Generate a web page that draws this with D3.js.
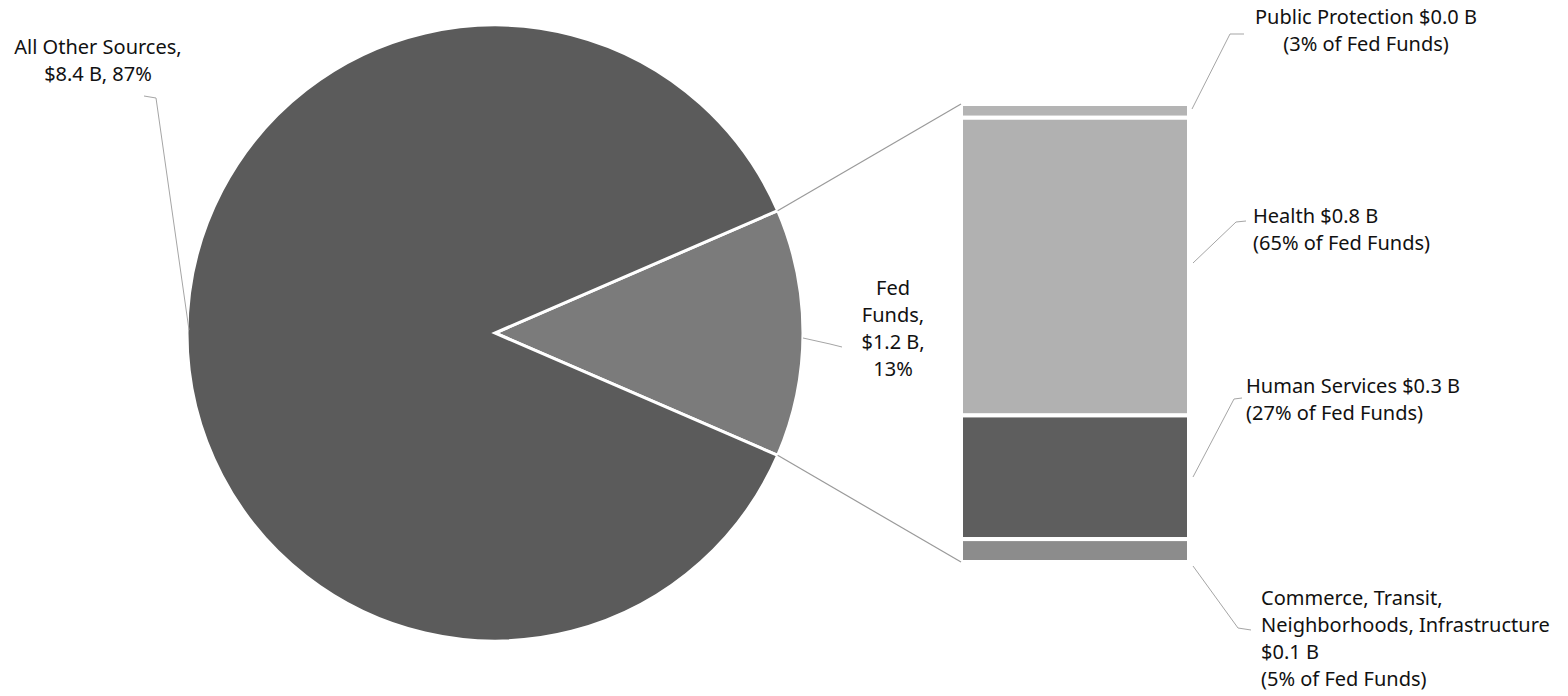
<!DOCTYPE html>
<html lang="en">
<head>
  <meta charset="UTF-8">
  <title>Fed Funds</title>
  <script src="https://d3js.org/d3.v7.min.js"></script>
  <style>
    body { margin: 0; background: #fff; }
    svg text { font-family: "Noto Sans", sans-serif; font-size: 20px; fill: #111; }
  </style>
</head>
<body>
  <svg id="chart" width="1568" height="696"></svg>
  <script>
    // pie: share of total (%)
    const pieNames = ["Fed Funds", "All Other Sources"];
    const pieShares = [13, 87];
    const pieAmounts = ["$1.2 B", "$8.4 B"];

    // bar: breakdown of Fed Funds (%), top to bottom
    const barNames = ["Public Protection", "Health", "Human Services", "Commerce, Transit, Neighborhoods, Infrastructure"];
    const barShares = [3, 65, 27, 5];
    const barAmounts = ["$0.0 B", "$0.8 B", "$0.3 B", "$0.1 B"];

    const svg = d3.select("#chart");
    const cx = 495, cy = 333, r = 308;

    const pieColors = ["#7b7b7b", "#5b5b5b"];
    const barColors = ["#b4b4b4", "#b1b1b1", "#5e5e5e", "#8c8c8c"];

    const fedAngle = pieShares[0] / d3.sum(pieShares) * 2 * Math.PI;
    const start = Math.PI / 2 - fedAngle / 2;
    const pie = d3.pie().sort(null).startAngle(start).endAngle(start + 2 * Math.PI);
    const arcs = pie(pieShares);
    const arc = d3.arc().innerRadius(0).outerRadius(r);

    const g = svg.append("g").attr("transform", `translate(${cx},${cy})`);
    g.selectAll("path")
      .data(arcs)
      .enter().append("path")
      .attr("d", arc)
      .attr("fill", (d, i) => pieColors[i])
      .attr("stroke", "#fff")
      .attr("stroke-width", 3)
      .attr("stroke-linejoin", "miter");

    // bar of pie
    const bx = 961, bw = 228;
    const y = d3.scaleLinear().domain([0, d3.sum(barShares)]).range([104, 562]);
    const cum = d3.cumsum(barShares);
    const segs = barShares.map((v, i) => ({ v, y0: cum[i] - v, y1: cum[i], i }));

    svg.selectAll(".seg")
      .data(segs)
      .enter().append("rect")
      .attr("class", "seg")
      .attr("x", bx)
      .attr("width", bw)
      .attr("y", d => y(d.y0))
      .attr("height", d => y(d.y1) - y(d.y0))
      .attr("fill", d => barColors[d.i])
      .attr("stroke", "#fff")
      .attr("stroke-width", 4);

    // connector lines from slice edges to bar corners
    const edge = a => [cx + r * Math.sin(a), cy - r * Math.cos(a)];
    const pA = edge(arcs[0].startAngle), pB = edge(arcs[0].endAngle);
    svg.append("line")
      .attr("x1", pA[0]).attr("y1", pA[1]).attr("x2", bx).attr("y2", y(0))
      .attr("stroke", "#9a9a9a").attr("stroke-width", 1.2);
    svg.append("line")
      .attr("x1", pB[0]).attr("y1", pB[1]).attr("x2", bx).attr("y2", y(d3.sum(barShares)))
      .attr("stroke", "#9a9a9a").attr("stroke-width", 1.2);

    const leader = pts => svg.append("path")
      .attr("d", d3.line()(pts))
      .attr("fill", "none")
      .attr("stroke", "#a5a5a5")
      .attr("stroke-width", 1);

    function multiText(x, y0, lines, anchor) {
      const t = svg.append("text").attr("text-anchor", anchor);
      lines.forEach((s, i) => {
        t.append("tspan").attr("x", x).attr("y", y0 + i * 27).text(s);
      });
    }

    // pie labels
    const otherAngle = Math.PI * 1.5;
    multiText(98, 54, [pieNames[1] + ",", `${pieAmounts[1]}, ${pieShares[1]}%`], "middle");
    leader([[144, 96], [156, 98], [cx + r * Math.sin(otherAngle) + 2, cy - 3]]);

    multiText(893, 295, ["Fed", "Funds,", pieAmounts[0] + ",", pieShares[0] + "%"], "middle");
    leader([[cx + r, 338], [830, 344], [842, 347]]);

    // bar labels
    const mid = d => (y(d.y0) + y(d.y1)) / 2;
    multiText(1366, 24, [`${barNames[0]} ${barAmounts[0]}`, `(${barShares[0]}% of Fed Funds)`], "middle");
    leader([[1192, 109], [1230, 34], [1244, 34]]);

    multiText(1253, 223, [`${barNames[1]} ${barAmounts[1]}`, `(${barShares[1]}% of Fed Funds)`], "start");
    leader([[1193, 263], [1236, 222], [1246, 221]]);

    multiText(1246, 393, [`${barNames[2]} ${barAmounts[2]}`, `(${barShares[2]}% of Fed Funds)`], "start");
    leader([[1193, 477], [1234, 399], [1242, 398]]);

    multiText(1261, 605, ["Commerce, Transit,", "Neighborhoods, Infrastructure", barAmounts[3], `(${barShares[3]}% of Fed Funds)`], "start");
    leader([[1193, 566], [1238, 628], [1251, 630]]);
  </script>
</body>
</html>
